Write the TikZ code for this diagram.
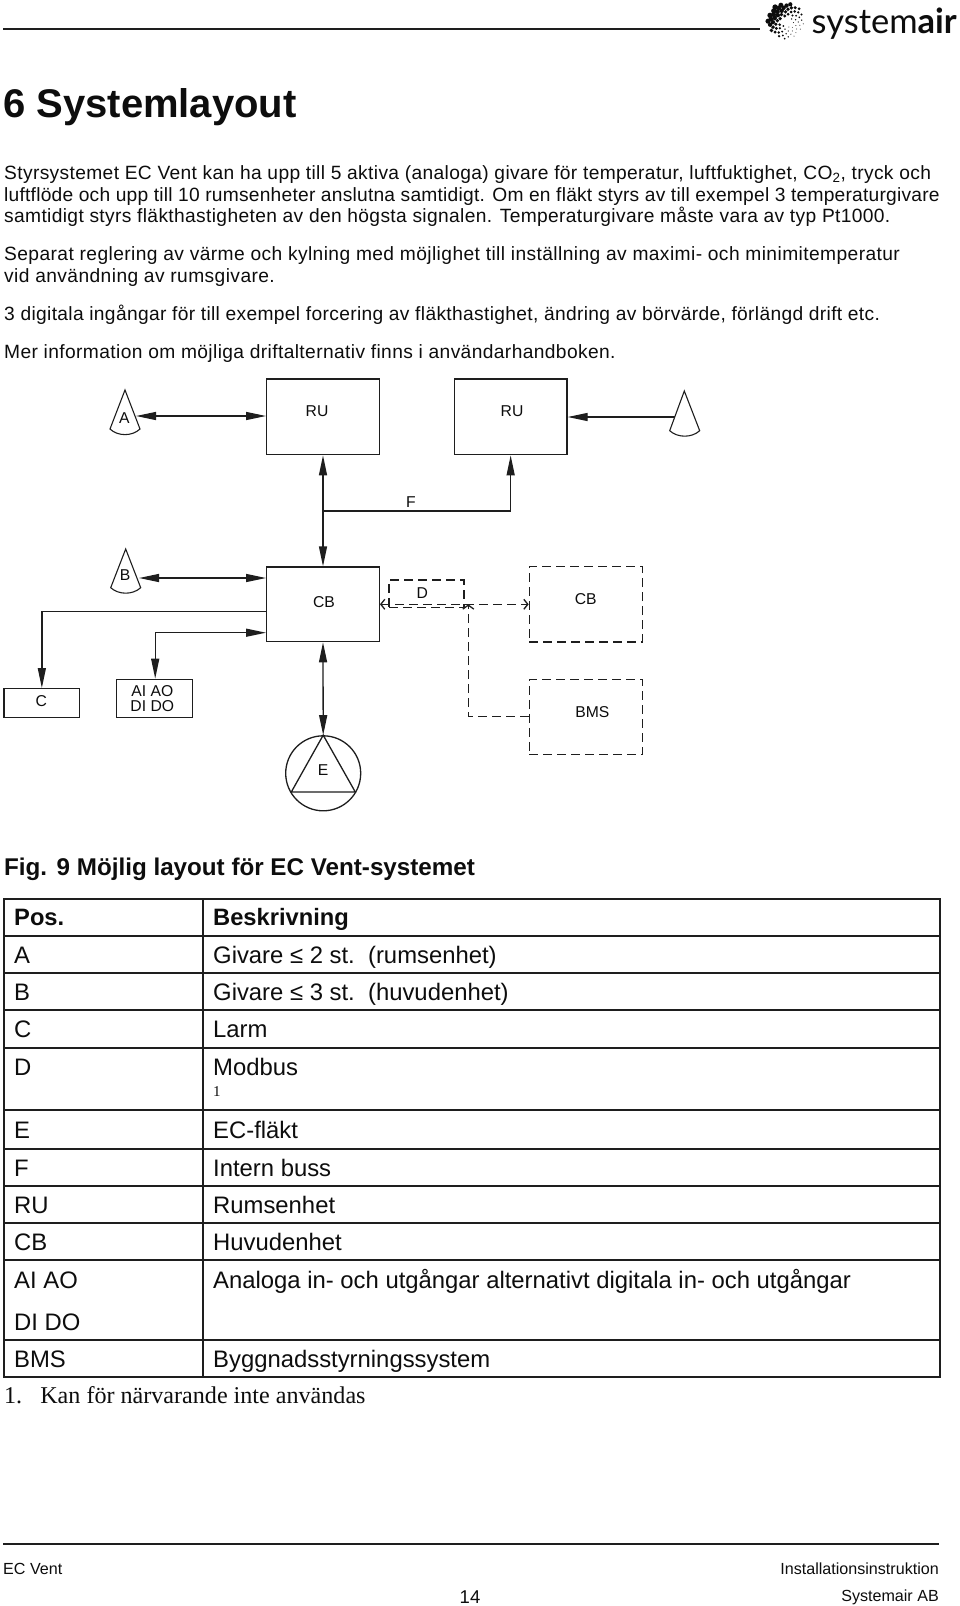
\documentclass[tikz,border=0pt]{standalone}
\usepackage{fontspec}
\setmainfont{Liberation Sans}
\newfontfamily\serifface{Liberation Serif}
\newfontfamily\logoface{Lato}
\newfontfamily\bodyface{Liberation Sans}
\usetikzlibrary{arrows.meta,calc}
\definecolor{ink}{HTML}{1E1E1E}
\definecolor{txt}{HTML}{0D0D0D}
\newcommand{\fs}[1]{\fontsize{#1pt}{#1pt}\selectfont}
\newcommand{\ls}[1]{\addfontfeature{LetterSpace=#1}}
\tikzset{
  dbox/.style={draw=ink,line width=1.3pt,dash pattern=on 9pt off 5pt,inner sep=0pt},
  sbox/.style={draw=ink,line width=1.3pt,inner sep=0pt},
  lab/.style={font=\fs{15.7},text=txt,inner sep=0pt,anchor=center,align=center},
  wire/.style={draw=ink,line width=1.3pt},
  dwire/.style={draw=ink,line width=1.3pt,dash pattern=on 9pt off 5pt},
  head/.style={-{Triangle[length=20pt,width=8pt]}},
  dbl/.style={{Triangle[length=20pt,width=8pt]}-{Triangle[length=20pt,width=8pt]}},
  open/.style={{Straight Barb[length=4pt,width=10pt]}-{Straight Barb[length=4pt,width=10pt]}},
  sensor/.style={draw=ink,line width=1.1pt},
  body/.style={font=\fs{19.2}\bodyface,text=txt,inner sep=0pt,anchor=base west},
  cell/.style={font=\fs{23.85},text=txt,inner sep=0pt,anchor=base west},
  rule/.style={draw=ink,line width=2pt},
  foot/.style={font=\fs{16.1},text=txt,inner sep=0pt},
}
\begin{document}
\begin{tikzpicture}[x=1pt,y=-1pt]
\useasboundingbox (0,0) rectangle (960,1606);
\fill[white] (0,0) rectangle (960,1606);
% header
\coordinate (hl) at (3,29);
\coordinate (hr) at (760,29);
\draw[rule] (hl) -- (hr);
\foreach \i in {6,...,72}{
  \pgfmathsetmacro{\r}{2.12*sqrt(\i)}
  \pgfmathsetmacro{\a}{\i*137.508}
  \pgfmathsetmacro{\s}{0.45+2.4*((1+cos(\a-140))/2)*(0.35+0.65*\r/18)}
  \fill[txt] ({786+\r*cos(\a)},{21-\r*sin(\a)}) circle (\s pt);
}
\node[inner sep=0pt,anchor=base west,text=txt,font=\fs{34.5}\logoface] (logo) at (811.5,33) {system\textbf{air}};
% title
\node[font=\fs{40}\bfseries,text=txt,inner sep=0pt,anchor=base west] (title) at (3,117) {6 Systemlayout};
% body
\node[body] (p1) at (4,179) {\ls{1.87}Styrsystemet EC Vent kan ha upp till 5 aktiva (analoga) givare för temperatur, luftfuktighet, CO\textsubscript{2}, tryck och};
\node[body] (p2) at (4,201) {\ls{1.19}luftflöde och upp till 10 rumsenheter anslutna samtidigt. Om en fläkt styrs av till exempel 3 temperaturgivare};
\node[body] (p3) at (4,222) {\ls{1.85}samtidigt styrs fläkthastigheten av den högsta signalen. Temperaturgivare måste vara av typ Pt1000.};
\node[body] (p4) at (4,260) {\ls{2.14}Separat reglering av värme och kylning med möjlighet till inställning av maximi- och minimitemperatur};
\node[body] (p5) at (4,282) {\ls{2.14}vid användning av rumsgivare.};
\node[body] (p6) at (4,320) {\ls{1.75}3 digitala ingångar för till exempel forcering av fläkthastighet, ändring av börvärde, förlängd drift etc.};
\node[body] (p7) at (4,358) {\ls{2.0}Mer information om möjliga driftalternativ finns i användarhandboken.};
% diagram boxes
\node[sbox,minimum width=112.6pt,minimum height=75.7pt] (ruA) at (323,416.85) {};
\node[sbox,minimum width=112.7pt,minimum height=75.7pt] (ruB) at (510.65,416.85) {};
\node[sbox,minimum width=112.6pt,minimum height=74.7pt] (cbA) at (323,604.35) {};
\node[sbox,minimum width=75.7pt,minimum height=28.6pt] (boxC) at (41.85,703) {};
\node[sbox,minimum width=75.6pt,minimum height=38pt] (boxAI) at (154.5,698.3) {};
\node[dbox,minimum width=113pt,minimum height=75.3pt] (cbB) at (585.8,604.4) {};
\node[dbox,minimum width=113pt,minimum height=75.4pt] (bms) at (585.8,717) {};
\node[dbox,minimum width=75pt,minimum height=27.7pt] (boxD) at (426.5,593.8) {};
\node[sbox,circle,minimum size=75pt] (fan) at (323.2,773.3) {};
% fan triangle
\coordinate (ftop) at (fan.north);
\draw[wire] (ftop) -- (291.3,792) -- (355.3,792) -- cycle;
% sensors
\draw[sensor] (125,390) -- (110,429) .. controls (118,436.5) and (132,436.5) .. (140,429) -- cycle;
\draw[sensor] (125.7,549) -- (110.7,587.7) .. controls (118.7,595) and (132.7,595) .. (140.7,587.7) -- cycle;
\draw[sensor] (684.3,391) -- (669.7,430.7) .. controls (677.7,438) and (691.7,438) .. (699.7,430.7) -- cycle;
\coordinate (senA) at (136,416);
\coordinate (senB) at (139,578);
\coordinate (senR) at (674.7,417);
% connectors
\draw[wire,dbl] (senA) -- (senA -| ruA.west);
\draw[wire,head] (senR) -- (senR -| ruB.east);
\draw[wire,dbl] (ruA.south) -- (cbA.north);
\coordinate (fj) at (323,511);
\draw[wire,head] (fj) -| (ruB.south);
\draw[wire,dbl] (senB) -- (senB -| cbA.west);
\coordinate (cout) at (cbA.west |- 0,611.7);
\draw[wire,head] (cout) -| (boxC.north);
\coordinate (aiin) at (cbA.west |- 0,632.7);
\coordinate (aic) at (155.2,632.7);
\draw[wire,dbl] (aiin) -- (aic) -- (aic |- boxAI.north);
\draw[wire,dbl] (cbA.south) -- (fan.north);
% dashed connectors
\coordinate (busL) at (cbA.east |- 0,604.3);
\coordinate (busR) at (cbB.west |- 0,604.3);
\draw[dwire,open] (busL) -- (busR);
\coordinate (bmsO) at (bms.west |- 0,716.7);
\coordinate (busU) at (468.3,604.3);
\draw[dwire,-{Straight Barb[length=4pt,width=11pt]}] (bmsO) -| (busU);
% diagram labels
\node[lab] (tRUa) at (317,411) {RU};
\node[lab] (tRUb) at (512,411) {RU};
\node[lab] (tCBa) at (324,601.7) {CB};
\node[lab] (tCBb) at (585.7,599.3) {CB};
\node[lab] (tBMS) at (592.3,711.7) {BMS};
\node[lab] (tD) at (422.3,592.7) {D};
\node[lab] (tF) at (411,502.5) {F};
\node[lab] (tA) at (124.3,417.7) {A};
\node[lab] (tB) at (125,575) {B};
\node[lab] (tC) at (41.3,701) {C};
\node[lab] (tE) at (323,770.3) {E};
\node[lab] (tAI) at (152.3,698.3) {AI AO\\[-0.5pt]DI DO};
% caption
\node[font=\fs{24.2}\bfseries,text=txt,inner sep=0pt,anchor=base west] (cap) at (4,875) {Fig.\hspace{9.5pt}9 Möjlig layout för EC Vent-systemet};
% table
\foreach \y in {899,935.5,973,1010,1047.5,1110,1148.5,1186,1223,1260,1340,1377}{
  \draw[rule] (3,\y) -- (939.5,\y);
}
\draw[rule] (3.5,898) -- (3.5,1378);
\draw[rule] (202.5,898) -- (202.5,1378);
\draw[rule] (939.5,898) -- (939.5,1378);
\node[cell,font=\fs{23.7}\bfseries] (c1) at (14,925) {Pos.};
\node[cell,font=\fs{23.7}\bfseries] (d1) at (213,925) {Beskrivning};
\node[cell] (c2) at (14,963) {A};
\node[cell] (d2) at (213,963) {Givare ≤ 2 st.\ \ (rumsenhet)};
\node[cell] (c3) at (14,1000) {B};
\node[cell] (d3) at (213,1000) {Givare ≤ 3 st.\ \ (huvudenhet)};
\node[cell] (c4) at (14,1037) {C};
\node[cell] (d4) at (213,1037) {Larm};
\node[cell] (c5) at (14,1075) {D};
\node[cell] (d5) at (213,1075) {Modbus};
\node[inner sep=0pt,anchor=base west,text=txt,font=\fs{15}\serifface] (d5b) at (213,1096) {1};
\node[cell] (c6) at (14,1138) {E};
\node[cell] (d6) at (213,1138) {EC-fläkt};
\node[cell] (c7) at (14,1176) {F};
\node[cell] (d7) at (213,1176) {Intern buss};
\node[cell] (c8) at (14,1213) {RU};
\node[cell] (d8) at (213,1213) {Rumsenhet};
\node[cell] (c9) at (14,1250) {CB};
\node[cell] (d9) at (213,1250) {Huvudenhet};
\node[cell] (c10) at (14,1288) {AI AO};
\node[cell] (d10) at (213,1288) {Analoga in- och utgångar alternativt digitala in- och utgångar};
\node[cell] (c11) at (14,1330) {DI DO};
\node[cell] (c12) at (14,1367) {BMS};
\node[cell] (d12) at (213,1367) {Byggnadsstyrningssystem};
\node[inner sep=0pt,anchor=base west,text=txt,font=\fs{24.1}\serifface] (fn) at (4,1403) {1.\ \ \ Kan för närvarande inte användas};
% footer
\coordinate (fl) at (3,1544);
\coordinate (fr) at (939,1544);
\draw[rule] (fl) -- (fr);
\node[foot,anchor=base west] (f1) at (3,1574) {EC Vent};
\node[foot,anchor=base east] (f2) at (939,1574) {Installationsinstruktion};
\node[foot,anchor=base east] (f3) at (939,1601) {Systemair AB};
\node[font=\fs{18.5},text=txt,inner sep=0pt,anchor=base] (f4) at (470,1603) {14};
\end{tikzpicture}
\end{document}
